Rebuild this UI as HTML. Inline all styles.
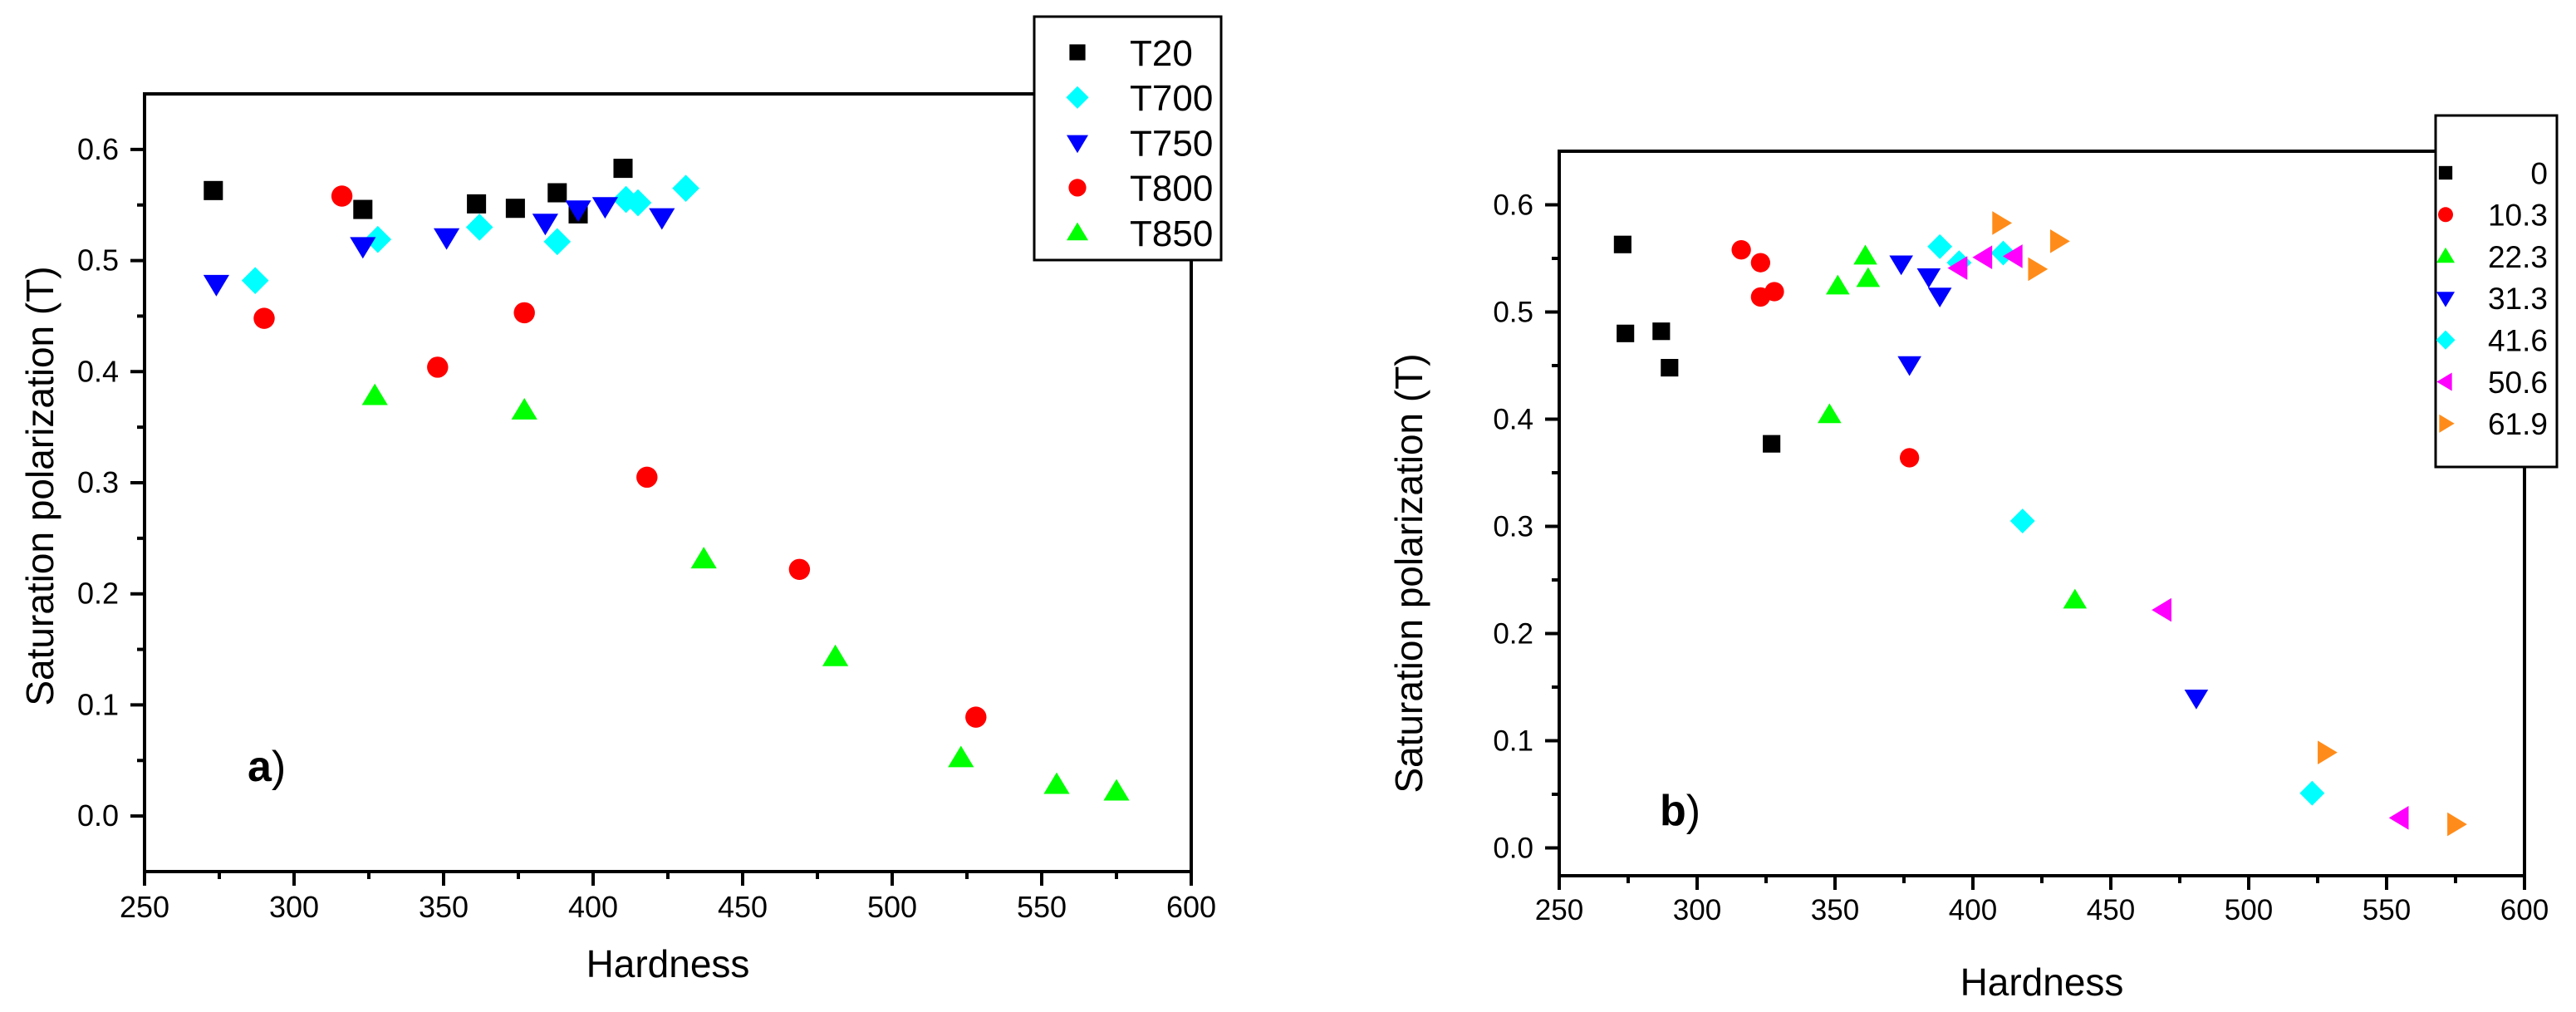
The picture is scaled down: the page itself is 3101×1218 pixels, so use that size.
<!DOCTYPE html>
<html><head><meta charset="utf-8"><style>
html,body{margin:0;padding:0;background:#fff;}
svg{display:block;font-family:"Liberation Sans",Arial,sans-serif;}
</style></head><body>
<svg id="fig" width="3101" height="1218" viewBox="0 0 3101 1218"></svg>
<script>
const xTicks=[250,300,350,400,450,500,550,600];
const yTicks=[0.0,0.1,0.2,0.3,0.4,0.5,0.6];
const yTickLabels=["0.0","0.1","0.2","0.3","0.4","0.5","0.6"];
// Panel a
const aNames=["T20","T700","T750","T800","T850"];
const aT20x=[273,323,361,374,388,395,410];
const aT20y=[0.563,0.546,0.551,0.547,0.561,0.542,0.583];
const aT700x=[287,328,362,388,411,415,431];
const aT700y=[0.482,0.519,0.530,0.517,0.555,0.552,0.565];
const aT750x=[274,323,351,384,395,404,423];
const aT750y=[0.479,0.513,0.521,0.534,0.546,0.549,0.539];
const aT800x=[316,290,348,377,418,469,528];
const aT800y=[0.558,0.448,0.404,0.453,0.305,0.222,0.089];
const aT850x=[327,377,437,481,523,555,575];
const aT850y=[0.378,0.365,0.231,0.143,0.052,0.028,0.022];
// Panel b
const bNames=["0","10.3","22.3","31.3","41.6","50.6","61.9"];
const b0x=[273,274,287,290,327];
const b0y=[0.563,0.480,0.482,0.448,0.377];
const b103x=[316,323,323,328,377];
const b103y=[0.558,0.546,0.514,0.519,0.364];
const b223x=[348,351,361,362,437];
const b223y=[0.404,0.524,0.552,0.531,0.231];
const b313x=[374,384,388,377,481];
const b313y=[0.545,0.533,0.515,0.451,0.140];
const b416x=[388,395,411,418,523];
const b416y=[0.561,0.546,0.555,0.305,0.051];
const b506x=[395,404,415,469,555];
const b506y=[0.541,0.551,0.552,0.222,0.028];
const b619x=[410,431,423,528,575];
const b619y=[0.583,0.566,0.540,0.089,0.022];

const NS="http://www.w3.org/2000/svg";
const svg=document.getElementById('fig');
function mk(tag,attrs,parent){const e=document.createElementNS(NS,tag);for(const k in attrs)e.setAttribute(k,attrs[k]);(parent||svg).appendChild(e);return e;}

function marker(g,shape,color,cx,cy,s){
  let e;
  if(shape==='square'){e=mk('rect',{x:cx-s*0.48,y:cy-s*0.48,width:s*0.96,height:s*0.96,fill:color},g);}
  else if(shape==='circle'){e=mk('circle',{cx:cx,cy:cy,r:s*0.53,fill:color},g);}
  else if(shape==='diamond'){const r=s*0.68;e=mk('polygon',{points:`${cx},${cy-r} ${cx+r},${cy} ${cx},${cy+r} ${cx-r},${cy}`,fill:color},g);}
  else if(shape==='down'){const w=s*0.65,h=s*0.6;e=mk('polygon',{points:`${cx-w},${cy-h*0.75} ${cx+w},${cy-h*0.75} ${cx},${cy+h*1.05}`,fill:color},g);}
  else if(shape==='up'){const w=s*0.65,h=s*0.6;e=mk('polygon',{points:`${cx-w},${cy+h*0.75} ${cx+w},${cy+h*0.75} ${cx},${cy-h*1.05}`,fill:color},g);}
  else if(shape==='left'){const w=s*0.65,h=s*0.6;e=mk('polygon',{points:`${cx+h*0.75},${cy-w} ${cx+h*0.75},${cy+w} ${cx-h*1.05},${cy}`,fill:color},g);}
  else if(shape==='right'){const w=s*0.65,h=s*0.6;e=mk('polygon',{points:`${cx-h*0.75},${cy-w} ${cx-h*0.75},${cy+w} ${cx+h*1.05},${cy}`,fill:color},g);}
  return e;
}

function panel(p){
  const g=mk('g',{});
  
  
  const X=v=>p.x0+(v-250)/350*(p.x1-p.x0);
  const Y=v=>p.y0-(v-p.ymin)/(0.65-p.ymin)*(p.y0-p.y1);
  for(let v=250;v<=600;v+=25){const major=(v%50===0);
    const t=mk('line',{x1:X(v),x2:X(v),y1:p.y0,y2:p.y0+(major?17:9),stroke:'#000','stroke-width':4},g);
    }
  xTicks.forEach(v=>{const t=mk('text',{x:X(v),y:p.y0+p.xlo,'font-size':p.tfs,'text-anchor':'middle'},g);t.textContent=v;
    });
  for(let i=0;i<=12;i++){const v=i*0.05;const major=(i%2===0);
    const t=mk('line',{x1:p.x0,x2:p.x0-(major?17:9),y1:Y(v),y2:Y(v),stroke:'#000','stroke-width':4},g);
    }
  yTicks.forEach((v,i)=>{const t=mk('text',{x:p.x0-31,y:Y(v)+12,'font-size':p.tfs,'text-anchor':'end'},g);t.textContent=yTickLabels[i];
    });
  const fr=mk('rect',{x:p.x0,y:p.y1,width:p.x1-p.x0,height:p.y0-p.y1,fill:'none',stroke:'#000','stroke-width':4},g);
  
  const xt=mk('text',{x:(p.x0+p.x1)/2,y:p.xty,'font-size':46,'text-anchor':'middle'},g);xt.textContent='Hardness';
  
  const yt=mk('text',{x:0,y:0,'font-size':46,'text-anchor':'middle',transform:`translate(${p.ytx},${p.yty}) rotate(-90)`},g);yt.textContent='Saturation polarization (T)';
  
  const pl=mk('text',{x:p.plx,y:p.ply,'font-size':52},g);
  const b=mk('tspan',{'font-weight':'bold'},pl);b.textContent=p.label;
  const r=mk('tspan',{},pl);r.textContent=')';
  
  p.series.forEach((s,i)=>{
    const sg=mk('g',{},g);
    
    s.xs.forEach((xv,j)=>{const m=marker(sg,s.shape,s.color,X(xv),Y(s.ys[j]),p.ms);
      });
  });
  const lg=mk('g',{},g);
  
  mk('rect',{x:p.lx,y:p.ly,width:p.lw,height:p.lh,fill:'#fff',stroke:'#000','stroke-width':3},lg);
  p.series.forEach((s,i)=>{
    const cy=p.lrow0+i*p.lstep;
    const e=mk('g',{},lg);
    
    marker(e,s.shape,s.color,p.lmx,cy,p.lms);
    const t=mk('text',{x:p.ltx,y:cy+p.lfs*0.36,'font-size':p.lfs,'text-anchor':p.lanchor},e);t.textContent=s.name;
  });
}

panel({id:'a',x0:174,x1:1434,y0:1049,y1:113,ymin:-0.05,ms:24,tfs:36,xlo:55,xty:1176,ytx:64,yty:585,plx:298,ply:940,label:'a',
  lx:1245,ly:20,lw:225,lh:293,lrow0:63,lstep:54.3,lmx:1297,lms:20,lfs:44,ltx:1360,lanchor:'start',
  series:[
   {name:aNames[0],xs:aT20x,ys:aT20y,shape:'square',color:'#000'},
   {name:aNames[1],xs:aT700x,ys:aT700y,shape:'diamond',color:'#00ffff'},
   {name:aNames[2],xs:aT750x,ys:aT750y,shape:'down',color:'#0000ff'},
   {name:aNames[3],xs:aT800x,ys:aT800y,shape:'circle',color:'#ff0000'},
   {name:aNames[4],xs:aT850x,ys:aT850y,shape:'up',color:'#00ff00'}]});
panel({id:'b',x0:1877,x1:3039,y0:1054,y1:182,ymin:-0.026,ms:22,tfs:35,xlo:53,xty:1198,ytx:1712,yty:690,plx:1998,ply:993,label:'b',
  lx:2932,ly:139,lw:146,lh:423,lrow0:208,lstep:50.3,lmx:2944,lms:17,lfs:37,ltx:3067,lanchor:'end',
  series:[
   {name:bNames[0],xs:b0x,ys:b0y,shape:'square',color:'#000'},
   {name:bNames[1],xs:b103x,ys:b103y,shape:'circle',color:'#ff0000'},
   {name:bNames[2],xs:b223x,ys:b223y,shape:'up',color:'#00ff00'},
   {name:bNames[3],xs:b313x,ys:b313y,shape:'down',color:'#0000ff'},
   {name:bNames[4],xs:b416x,ys:b416y,shape:'diamond',color:'#00ffff'},
   {name:bNames[5],xs:b506x,ys:b506y,shape:'left',color:'#ff00ff'},
   {name:bNames[6],xs:b619x,ys:b619y,shape:'right',color:'#ff8c1a'}]});
</script>
</body></html>
